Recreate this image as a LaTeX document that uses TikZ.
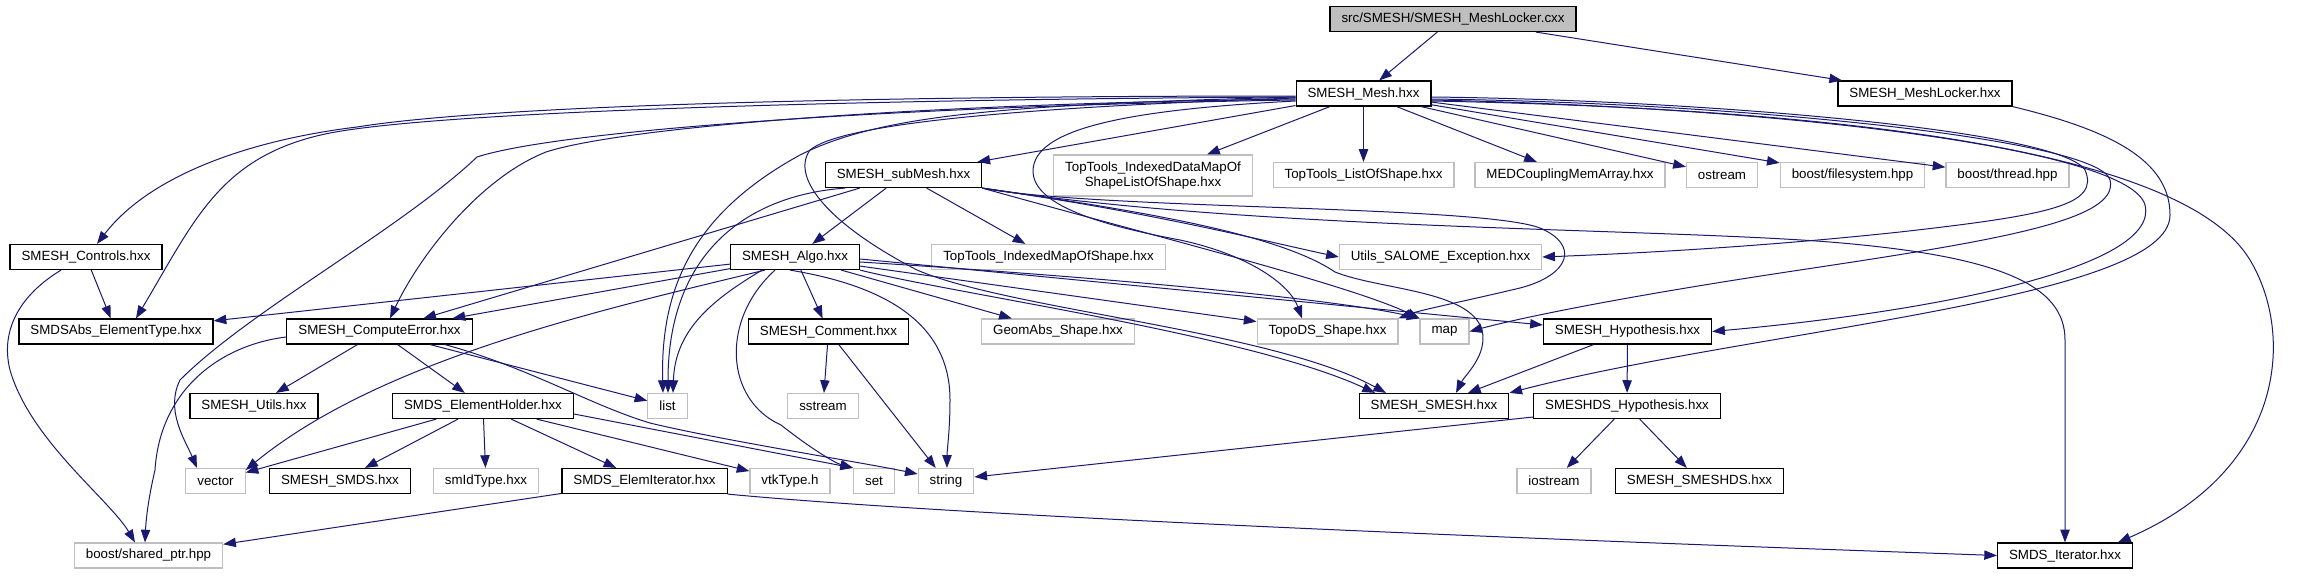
\documentclass[tikz,border=0pt]{standalone}
\usepackage{fontspec}
\setmainfont{Liberation Sans}
\usepackage{tikz}
\usetikzlibrary{arrows.meta}
\usepackage{xcolor}
\definecolor{DoxyBlue}{HTML}{191970}
\definecolor{DoxyGray}{HTML}{BFBFBF}

\begin{document}
\begin{tikzpicture}[x=0.75pt,y=-0.75pt,font=\fontsize{10}{11.25}\selectfont,
  filebox/.style={draw=black,line width=0.9pt,fill=white,minimum height=18.75pt,inner xsep=8.6pt,inner ysep=0pt},
  extbox/.style={filebox,draw=DoxyGray},
  rootbox/.style={filebox,fill=DoxyGray},
  incl/.style={-{Triangle[length=9.5pt,width=7pt]},DoxyBlue,line width=0.75pt}]
  \useasboundingbox (0,0) rectangle (2313,575);

  % files
  \node[rootbox] (root) at (1453,19) {src/SMESH/SMESH\_MeshLocker.cxx};
  \node[filebox] (mesh) at (1363.5,93.5) {SMESH\_Mesh.hxx};
  \node[filebox] (locker) at (1925,93.5) {SMESH\_MeshLocker.hxx};
  \node[filebox] (submesh) at (903.5,175) {SMESH\_subMesh.hxx};
  \node[extbox,align=center,minimum height=30.75pt] (ttidm) at (1153,175.5) {TopTools\_IndexedDataMapOf\\ShapeListOfShape.hxx};
  \node[extbox] (ttlist) at (1363.5,175) {TopTools\_ListOfShape.hxx};
  \node[extbox] (medc) at (1570,175) {MEDCouplingMemArray.hxx};
  \node[extbox] (ostream) at (1722,175) {ostream};
  \node[extbox] (bfs) at (1852.5,175) {boost/filesystem.hpp};
  \node[extbox] (bthread) at (2007.5,175) {boost/thread.hpp};
  \node[filebox] (controls) at (86,257) {SMESH\_Controls.hxx};
  \node[filebox] (algo) at (795,257) {SMESH\_Algo.hxx};
  \node[extbox] (ttims) at (1048.5,257) {TopTools\_IndexedMapOfShape.hxx};
  \node[extbox] (utils) at (1440.5,257) {Utils\_SALOME\_Exception.hxx};
  \node[filebox] (smdsabs) at (116,331.5) {SMDSAbs\_ElementType.hxx};
  \node[filebox] (comperr) at (379.5,331.5) {SMESH\_ComputeError.hxx};
  \node[filebox] (comment) at (828.5,331.5) {SMESH\_Comment.hxx};
  \node[extbox] (geomabs) at (1058,331.5) {GeomAbs\_Shape.hxx};
  \node[extbox] (topods) at (1327.5,331.5) {TopoDS\_Shape.hxx};
  \node[extbox] (map) at (1444.5,331.5) {map};
  \node[filebox] (hyp) at (1627.5,331.5) {SMESH\_Hypothesis.hxx};
  \node[filebox] (smutils) at (254,406) {SMESH\_Utils.hxx};
  \node[filebox] (holder) at (483,406) {SMDS\_ElementHolder.hxx};
  \node[extbox] (list) at (667.5,406) {list};
  \node[extbox] (sstream) at (823,406) {sstream};
  \node[filebox] (smesh) at (1434,406) {SMESH\_SMESH.hxx};
  \node[filebox] (dshyp) at (1627,406) {SMESHDS\_Hypothesis.hxx};
  \node[extbox] (vector) at (215.5,481) {vector};
  \node[filebox] (smds) at (340,481) {SMESH\_SMDS.hxx};
  \node[extbox] (smid) at (486,481) {smIdType.hxx};
  \node[filebox] (elemit) at (644.5,481) {SMDS\_ElemIterator.hxx};
  \node[extbox] (vtk) at (790,481) {vtkType.h};
  \node[extbox] (set) at (874,481) {set};
  \node[extbox] (string) at (946,481) {string};
  \node[extbox] (iostream) at (1554,481) {iostream};
  \node[filebox] (smeshds) at (1699.5,481) {SMESH\_SMESHDS.hxx};
  \node[extbox] (shptr) at (148.5,555.5) {boost/shared\_ptr.hpp};
  \node[filebox] (smdsit) at (2065,555.5) {SMDS\_Iterator.hxx};

  % includes of the source and of SMESH_Mesh.hxx
  \draw[incl] (root) -- (mesh);
  \draw[incl] (root) -- (locker);
  \draw[incl] (mesh) -- (submesh);
  \draw[incl] (mesh) -- (ttidm);
  \draw[incl] (mesh) -- (ttlist);
  \draw[incl] (mesh) -- (medc);
  \draw[incl] (mesh) -- (ostream);
  \draw[incl] (mesh) -- (bfs);
  \draw[incl] (mesh) -- (bthread);
  \draw[incl] (mesh.west |- 0,96) .. controls (900,96) and (500,104) .. (357,127)
    .. controls (250,140) and (150,175) .. (controls.north -| 97,0);
  \draw[incl] (mesh.west |- 0,97) .. controls (900,99) and (450,110) .. (330,133)
    .. controls (220,155) and (195,220) .. (smdsabs.north -| 136,0);
  \draw[incl] (mesh.west |- 0,99) .. controls (900,104) and (620,128) .. (546,152)
    .. controls (480,178) and (420,255) .. (comperr.north -| 390,0);
  \draw[incl] (mesh.west |- 0,100) .. controls (900,106) and (560,130) .. (477,157)
    .. controls (400,230) and (250,310) .. (180,380)
    .. controls (165,410) and (185,440) .. (vector.north -| 197,0);
  \draw[incl] (mesh.west |- 0,97) .. controls (1000,105) and (880,115) .. (800,155)
    .. controls (700,210) and (660,280) .. (list.north -| 663,0);
  \draw[incl] (mesh.west |- 0,98) .. controls (1000,108) and (840,125) .. (810,150)
    .. controls (790,178) and (830,225) .. (917,270)
    .. controls (1010,310) and (1270,330) .. (smesh.north -| 1386,0);
  \draw[incl] (mesh.west |- 0,101) .. controls (1120,110) and (1035,130) .. (1033,170)
    .. controls (1032,205) and (1100,225) .. (1180,240)
    .. controls (1250,255) and (1290,285) .. (topods.north -| 1302,0);
  \draw[incl] (mesh.east |- 0,97) .. controls (1700,100) and (2060,130) .. (2085,170)
    .. controls (2100,205) and (2050,215) .. (1900,232)
    .. controls (1750,248) and (1620,254) .. (utils.east);
  \draw[incl] (mesh.east |- 0,99) .. controls (1750,103) and (2100,140) .. (2110,180)
    .. controls (2120,220) and (2000,240) .. (1800,270)
    .. controls (1620,297) and (1520,318) .. (map.east);
  \draw[incl] (mesh.east |- 0,100) .. controls (1800,108) and (2130,150) .. (2145,205)
    .. controls (2160,265) and (1950,310) .. (hyp.east);
  \draw[incl] (mesh.east |- 0,101) .. controls (1900,110) and (2190,160) .. (2250,260)
    .. controls (2295,335) and (2285,470) .. (smdsit.north -| 2118,0);
  \draw[incl] (locker.south east) .. controls (2110,130) and (2170,160) .. (2170,215)
    .. controls (2170,300) and (1750,330) .. (smesh.north east);

  % SMESH_subMesh.hxx
  \draw[incl] (submesh) -- (algo);
  \draw[incl] (submesh) -- (ttims);
  \draw[incl] (submesh) -- (comperr);
  \draw[incl] (submesh.south -| 845,0) .. controls (750,195) and (668,250) .. (list.north -| 668,0);
  \draw[incl] (submesh.south east) .. controls (1150,212) and (1260,240) .. (utils.west);
  \draw[incl] (submesh.south east) .. controls (1100,210) and (1480,205) .. (1540,228)
    .. controls (1580,245) and (1570,275) .. (1520,288)
    .. controls (1470,300) and (1420,310) .. (topods.north east);
  \draw[incl] (submesh.south east) .. controls (1150,235) and (1350,285) .. (map.north west);
  \draw[incl] (submesh.south east) .. controls (1150,212) and (1280,235) .. (1335,272)
    .. controls (1380,290) and (1470,290) .. (1482,330)
    .. controls (1488,355) and (1465,375) .. (smesh.north -| 1456,0);
  \draw[incl] (submesh.south east) .. controls (1250,230) and (1650,228) .. (1830,242)
    .. controls (2000,256) and (2065,285) .. (2065,340) -- (smdsit);

  % SMESH_Algo.hxx
  \draw[incl] (algo) -- (smdsabs);
  \draw[incl] (algo) -- (comperr);
  \draw[incl] (algo.south -| 765,0) .. controls (600,310) and (380,360) .. (vector.east |- 0,470);
  \draw[incl] (algo) -- (comment);
  \draw[incl] (algo) -- (geomabs);
  \draw[incl] (algo) -- (topods);
  \draw[incl] (algo.east |- 0,262) .. controls (1150,280) and (1350,302) .. (map.north west);
  \draw[incl] (algo.east |- 0,259) -- (hyp.west |- 0,325);
  \draw[incl] (algo.south east) .. controls (960,295) and (1250,335) .. (smesh.north -| 1375,0);
  \draw[incl] (algo.south -| 762,0) .. controls (712,300) and (675,330) .. (list.north -| 673,0);
  \draw[incl] (algo.south -| 775,0) .. controls (720,320) and (725,400) .. (781,425)
    .. controls (810,448) and (835,463) .. (set.north west);
  \draw[incl] (algo.south -| 790,0) .. controls (880,285) and (950,320) .. (950,400)
    .. controls (950,430) and (947,450) .. (string.north -| 947,0);

  % the rest
  \draw[incl] (controls) -- (smdsabs);
  \draw[incl] (controls.south -| 61,0) .. controls (20,295) and (0,330) .. (10,370)
    .. controls (30,440) and (110,500) .. (shptr.north -| 135,0);
  \draw[incl] (comperr) -- (smutils);
  \draw[incl] (comperr) -- (holder);
  \draw[incl] (comperr) -- (list);
  \draw[incl] (comperr.south -| 445,0) .. controls (530,368) and (590,405) .. (650,423)
    .. controls (720,440) and (860,462) .. (string.west |- 0,474);
  \draw[incl] (comperr.west |- 0,337) .. controls (220,345) and (160,390) .. (155,470)
    .. controls (148,500) and (146,520) .. (shptr.north -| 145,0);
  \draw[incl] (holder) -- (vector);
  \draw[incl] (holder) -- (smds);
  \draw[incl] (holder) -- (smid);
  \draw[incl] (holder) -- (elemit);
  \draw[incl] (holder) -- (vtk);
  \draw[incl] (holder.east |- 0,414) -- (set.north west);
  \draw[incl] (elemit) -- (shptr);
  \draw[incl] (elemit.south east) .. controls (1000,520) and (1700,545) .. (smdsit.west);
  \draw[incl] (comment) -- (sstream);
  \draw[incl] (comment) -- (string);
  \draw[incl] (hyp) -- (dshyp);
  \draw[incl] (hyp) -- (smesh);
  \draw[incl] (dshyp.west |- 0,417) -- (string.east |- 0,477);
  \draw[incl] (dshyp) -- (iostream);
  \draw[incl] (dshyp) -- (smeshds);
\end{tikzpicture}
\end{document}
